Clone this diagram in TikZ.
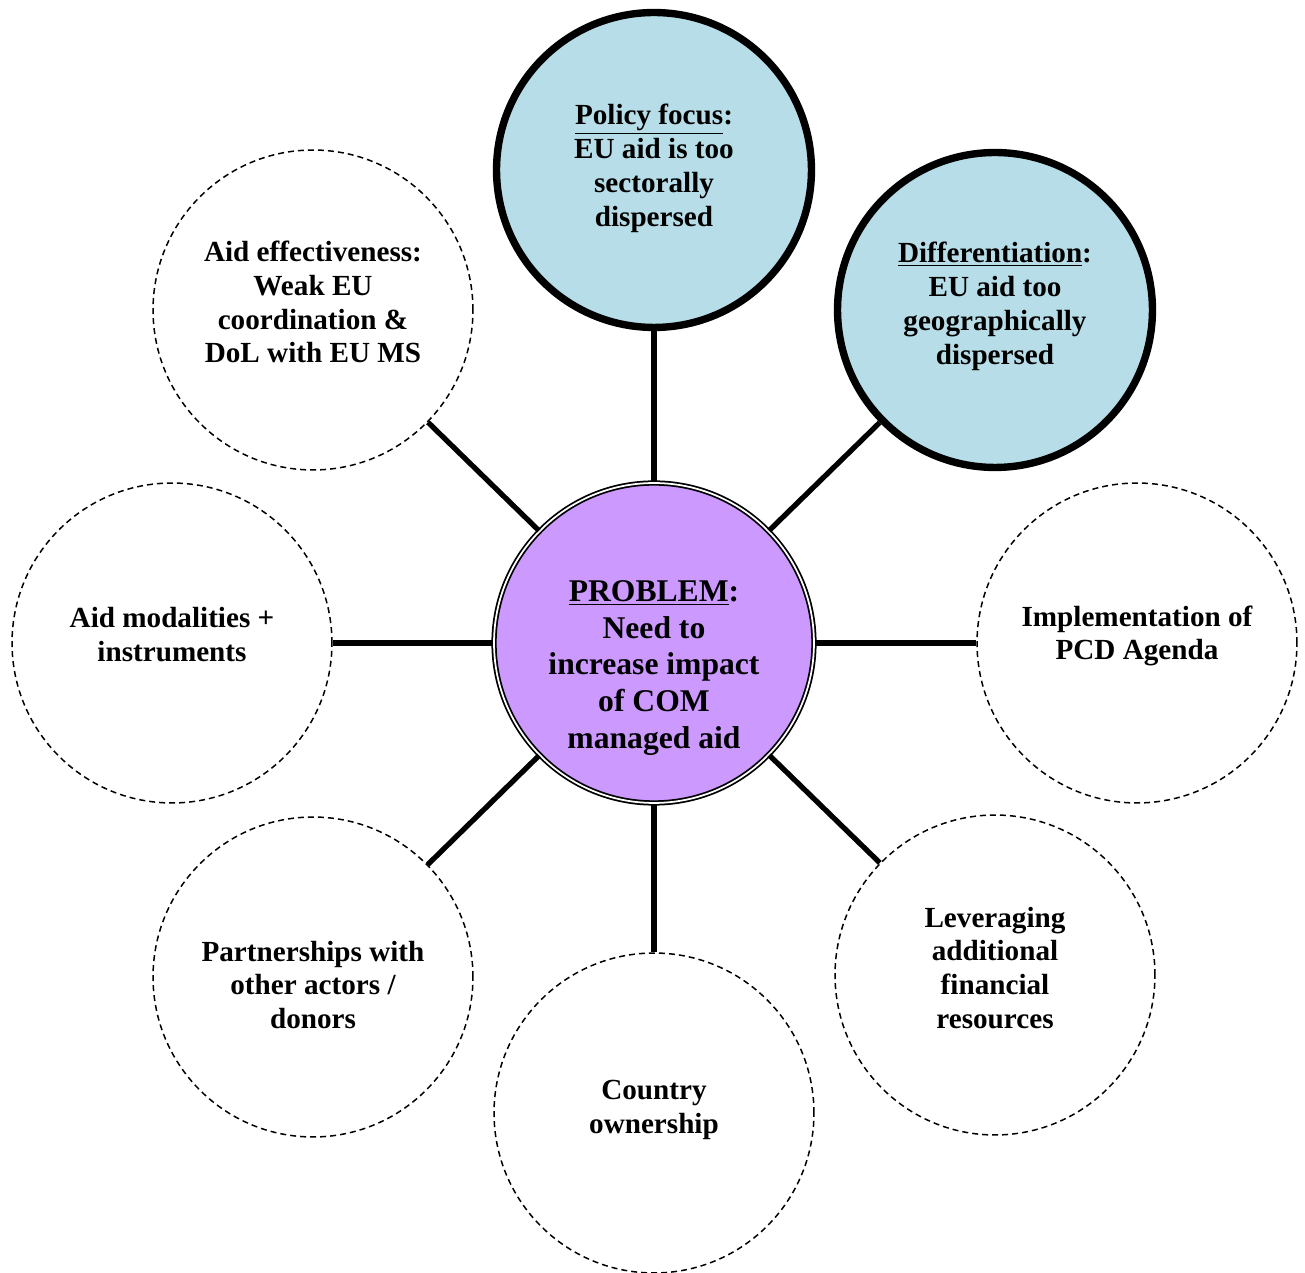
\documentclass[tikz,border=0pt]{standalone}
\usepackage{fontspec}
\setmainfont{Liberation Serif}
\usetikzlibrary{positioning}

\definecolor{probfill}{HTML}{CC99FF}
\definecolor{focusfill}{HTML}{B7DEE8}

\begin{document}
\begin{tikzpicture}[
    x=0.02cm, y=0.02cm,
    every node/.style = {circle, align=center, inner sep=0pt},
    lbl/.style   = {rectangle, font=\bfseries\fontsize{16.6}{19.3}\selectfont},
    biglbl/.style = {rectangle, font=\bfseries\fontsize{18}{21}\selectfont},
    issue/.style = {draw, dashed, line width=0.85pt, dash pattern=on 3.4pt off 2.3pt,
                    minimum size=6.4cm},
    focus/.style = {draw, line width=4.2pt, fill=focusfill, minimum size=6.3cm},
    link/.style  = {line width=3pt},
]
    \useasboundingbox (-654,-630) rectangle (651,643);

    % circles
    \node[draw, double, line width=1pt, double distance=1pt, fill=probfill,
          minimum size=6.4cm] (PROB) at (0,0) {};
    \node[focus] (FOCUS)  at (0,473)    {};
    \node[focus] (DIFF)   at (341,333)  {};
    \node[issue] (PCD)    at (483,0)    {};
    \node[issue] (LEVER)  at (341,-332) {};
    \node[issue] (OWN)    at (0,-470)   {};
    \node[issue] (PART)   at (-341,-334) {};
    \node[issue] (MODAL)  at (-482,0)   {};
    \node[issue] (EFFECT) at (-341,333) {};

    % texts
    \node[biglbl] (PROBtext) at ([yshift=-0.5cm]PROB)
        {\underline{PROBLEM}:\\Need to\\increase impact\\of COM\\managed aid};
    \node[lbl] (FOCUStext)  at ([yshift=0.04cm]FOCUS)
        {\underline{Policy focus}:\\EU aid is too\\sectorally\\dispersed};
    \node[lbl] (DIFFtext)   at ([yshift=0.08cm]DIFF)
        {\underline{Differentiation}:\\EU aid too\\geographically\\dispersed};
    \node[lbl] (PCDtext)    at ([yshift=0.14cm]PCD)    {Implementation of\\PCD Agenda};
    \node[lbl] (LEVERtext)  at ([yshift=0.14cm]LEVER)  {Leveraging\\additional\\financial\\resources};
    \node[lbl] (OWNtext)    at ([yshift=0.06cm]OWN)    {Country\\ownership};
    \node[lbl] (PARTtext)   at ([yshift=-0.16cm]PART)  {Partnerships with\\other actors /\\donors};
    \node[lbl] (MODALtext)  at ([yshift=0.16cm]MODAL)  {Aid modalities +\\instruments};
    \node[lbl] (EFFECTtext) at ([yshift=0.16cm]EFFECT) {Aid effectiveness:\\Weak EU\\coordination \&\\DoL with EU MS};

    % spokes
    \foreach \n in {FOCUS, DIFF, PCD, LEVER, OWN, PART, MODAL, EFFECT}
        \draw[link] (PROB) -- (\n);
\end{tikzpicture}
\end{document}
